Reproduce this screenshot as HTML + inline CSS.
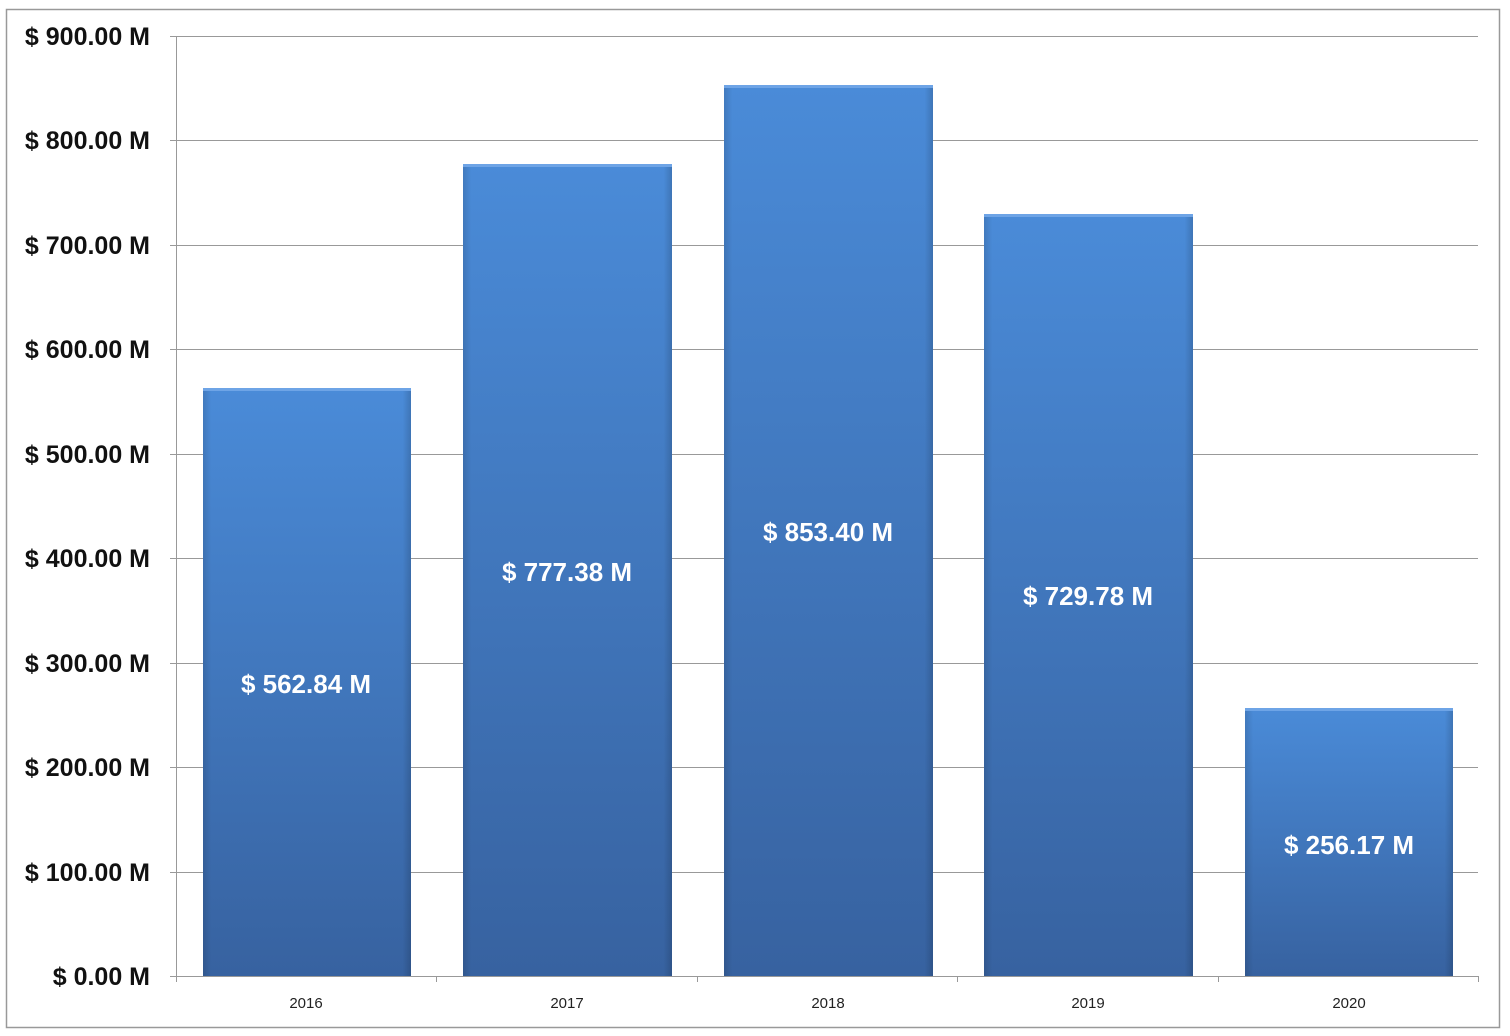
<!DOCTYPE html>
<html><head><style>
html,body{margin:0;padding:0;background:#fff;}
svg{display:block;}
text{font-family:"Liberation Sans",Arial,sans-serif;}
</style></head><body>
<svg width="1510" height="1036" viewBox="0 0 1510 1036" xmlns="http://www.w3.org/2000/svg">
<defs>
<linearGradient id="g" x1="0" y1="0" x2="0" y2="1">
<stop offset="0" stop-color="#4a8bd8"/>
<stop offset="1" stop-color="#3762a0"/>
</linearGradient>
<linearGradient id="h" x1="0" y1="0" x2="1" y2="0">
<stop offset="0" stop-color="#000" stop-opacity="0.12"/>
<stop offset="0.04" stop-color="#000" stop-opacity="0"/>
<stop offset="0.96" stop-color="#000" stop-opacity="0"/>
<stop offset="1" stop-color="#000" stop-opacity="0.15"/>
</linearGradient>
</defs>
<rect x="6.5" y="9.5" width="1493" height="1018" fill="#fff" stroke="#999" stroke-width="1.5"/>
<g stroke="#999" stroke-width="1">
<line x1="170" y1="36.5" x2="1478" y2="36.5"/>
<line x1="170" y1="140.5" x2="1478" y2="140.5"/>
<line x1="170" y1="245.5" x2="1478" y2="245.5"/>
<line x1="170" y1="349.5" x2="1478" y2="349.5"/>
<line x1="170" y1="454.5" x2="1478" y2="454.5"/>
<line x1="170" y1="558.5" x2="1478" y2="558.5"/>
<line x1="170" y1="663.5" x2="1478" y2="663.5"/>
<line x1="170" y1="767.5" x2="1478" y2="767.5"/>
<line x1="170" y1="872.5" x2="1478" y2="872.5"/>
<line x1="170" y1="976.5" x2="1478" y2="976.5"/>
<line x1="176.5" y1="36" x2="176.5" y2="982"/>
<line x1="436.5" y1="976" x2="436.5" y2="982"/>
<line x1="697.5" y1="976" x2="697.5" y2="982"/>
<line x1="957.5" y1="976" x2="957.5" y2="982"/>
<line x1="1218.5" y1="976" x2="1218.5" y2="982"/>
<line x1="1478.5" y1="976" x2="1478.5" y2="982"/>
</g>
<g>
<rect x="203" y="388" width="208" height="588" fill="url(#g)"/>
<rect x="203" y="388" width="208" height="588" fill="url(#h)"/>
<rect x="203" y="388" width="208" height="3" fill="#6ea4e6"/>
<rect x="463" y="164" width="209" height="812" fill="url(#g)"/>
<rect x="463" y="164" width="209" height="812" fill="url(#h)"/>
<rect x="463" y="164" width="209" height="3" fill="#6ea4e6"/>
<rect x="724" y="85" width="209" height="891" fill="url(#g)"/>
<rect x="724" y="85" width="209" height="891" fill="url(#h)"/>
<rect x="724" y="85" width="209" height="3" fill="#6ea4e6"/>
<rect x="984" y="214" width="209" height="762" fill="url(#g)"/>
<rect x="984" y="214" width="209" height="762" fill="url(#h)"/>
<rect x="984" y="214" width="209" height="3" fill="#6ea4e6"/>
<rect x="1245" y="708" width="208" height="268" fill="url(#g)"/>
<rect x="1245" y="708" width="208" height="268" fill="url(#h)"/>
<rect x="1245" y="708" width="208" height="3" fill="#6ea4e6"/>
</g>
<g font-size="25" font-weight="bold" fill="#111" text-anchor="end" letter-spacing="0">
<text x="150" y="45">$ 900.00 M</text>
<text x="150" y="149">$ 800.00 M</text>
<text x="150" y="254">$ 700.00 M</text>
<text x="150" y="358">$ 600.00 M</text>
<text x="150" y="463">$ 500.00 M</text>
<text x="150" y="567">$ 400.00 M</text>
<text x="150" y="672">$ 300.00 M</text>
<text x="150" y="776">$ 200.00 M</text>
<text x="150" y="881">$ 100.00 M</text>
<text x="150" y="985">$ 0.00 M</text>
</g>
<g font-size="26" font-weight="bold" fill="#fff" text-anchor="middle" letter-spacing="0">
<text x="306" y="693">$ 562.84 M</text>
<text x="567" y="581">$ 777.38 M</text>
<text x="828" y="541">$ 853.40 M</text>
<text x="1088" y="605">$ 729.78 M</text>
<text x="1349" y="854">$ 256.17 M</text>
</g>
<g font-size="15" fill="#222" text-anchor="middle">
<text x="306" y="1008">2016</text>
<text x="567" y="1008">2017</text>
<text x="828" y="1008">2018</text>
<text x="1088" y="1008">2019</text>
<text x="1349" y="1008">2020</text>
</g>
</svg>
</body></html>
